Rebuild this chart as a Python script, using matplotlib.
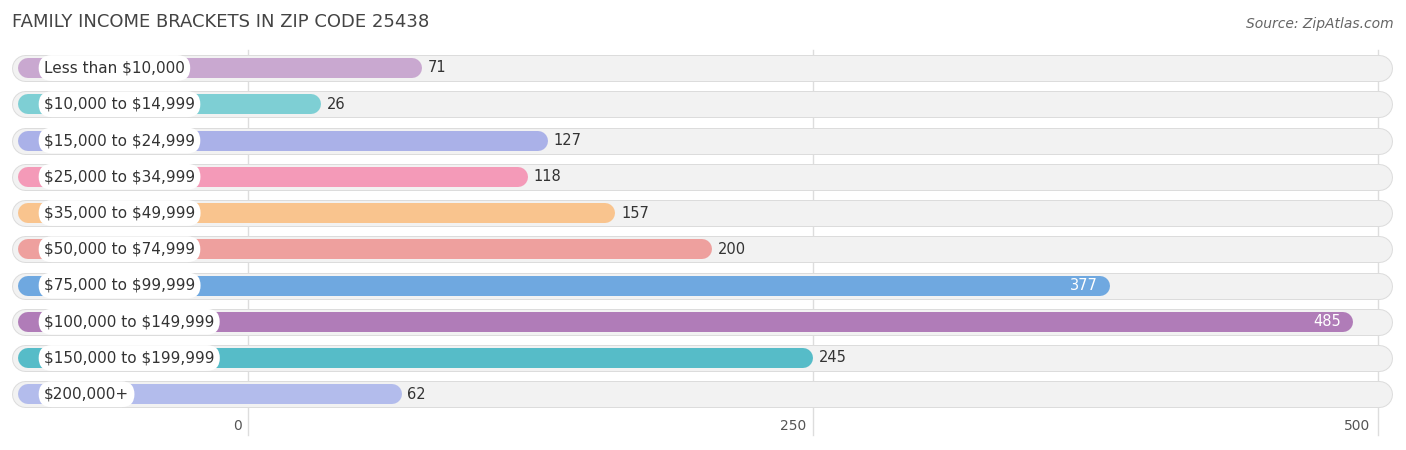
import matplotlib
matplotlib.use("Agg")
import matplotlib.pyplot as plt
plt.rcParams["text.parse_math"] = False

categories = ["Less than $10,000", "$10,000 to $14,999", "$15,000 to $24,999", "$25,000 to $34,999",
              "$35,000 to $49,999", "$50,000 to $74,999", "$75,000 to $99,999", "$100,000 to $149,999",
              "$150,000 to $199,999", "$200,000+"]
values = [71, 26, 127, 118, 157, 200, 377, 485, 245, 62]
colors = ["#c9a8d0", "#7ecfd4", "#aab1e8", "#f49ab8", "#f9c48e", "#eea09e", "#6fa8e0", "#b07cb8", "#56bcc8", "#b3bcec"]
ticks = [0, 250, 500]

PX = 2.25          # pixels per unit
X0 = 262           # pixel of value 0
def px2d(p): return (p - X0) / PX

fig = plt.figure(figsize=(14.06, 4.5), dpi=100)
ax = fig.add_axes([0, 0, 1, 1])
ax.set_xlim(px2d(0), px2d(1406))
ax.set_ylim(450, 0)
ax.axis("off")
pt = 72 / 100  # points per pixel

for gp in [248, 813, 1378]:
    ax.plot([px2d(gp)] * 2, [50, 435], color="#dddddd", lw=1, zorder=0)
for t, gp in zip(ticks, [238, 793, 1357]):
    ax.text(px2d(gp), 426, str(t), ha="center", va="center", fontsize=10, color="#555555")

for i, (c, v, col) in enumerate(zip(categories, values, colors)):
    y = 68 + 36.25 * i
    ax.plot([px2d(12 + 13), px2d(1392 - 13)], [y, y], lw=27 * pt, color="#dcdcdc",
            solid_capstyle="round", zorder=1)
    ax.plot([px2d(12 + 13), px2d(1392 - 13)], [y, y], lw=25 * pt, color="#f2f2f2",
            solid_capstyle="round", zorder=1)
    ax.plot([px2d(18 + 10), v - 10 / PX], [y, y], lw=20 * pt, color=col,
            solid_capstyle="round", zorder=2)
    ax.text(px2d(44), y, c, ha="left", va="center", fontsize=11, color="#333333", zorder=4,
            bbox=dict(boxstyle="round,pad=0.35,rounding_size=0.85", fc="white", ec="none"))
    if v > 300:
        ax.text(v - 12 / PX, y, str(v), ha="right", va="center", fontsize=10.5, color="white", zorder=4)
    else:
        ax.text(v + 6 / PX, y, str(v), ha="left", va="center", fontsize=10.5, color="#333333", zorder=4)

ax.text(px2d(12), 22, "FAMILY INCOME BRACKETS IN ZIP CODE 25438", ha="left", va="center",
        fontsize=13, color="#444444")
ax.text(px2d(1394), 24, "Source: ZipAtlas.com", ha="right", va="center", fontsize=10,
        color="#666666", style="italic")

fig.savefig("out.png", dpi=100)
